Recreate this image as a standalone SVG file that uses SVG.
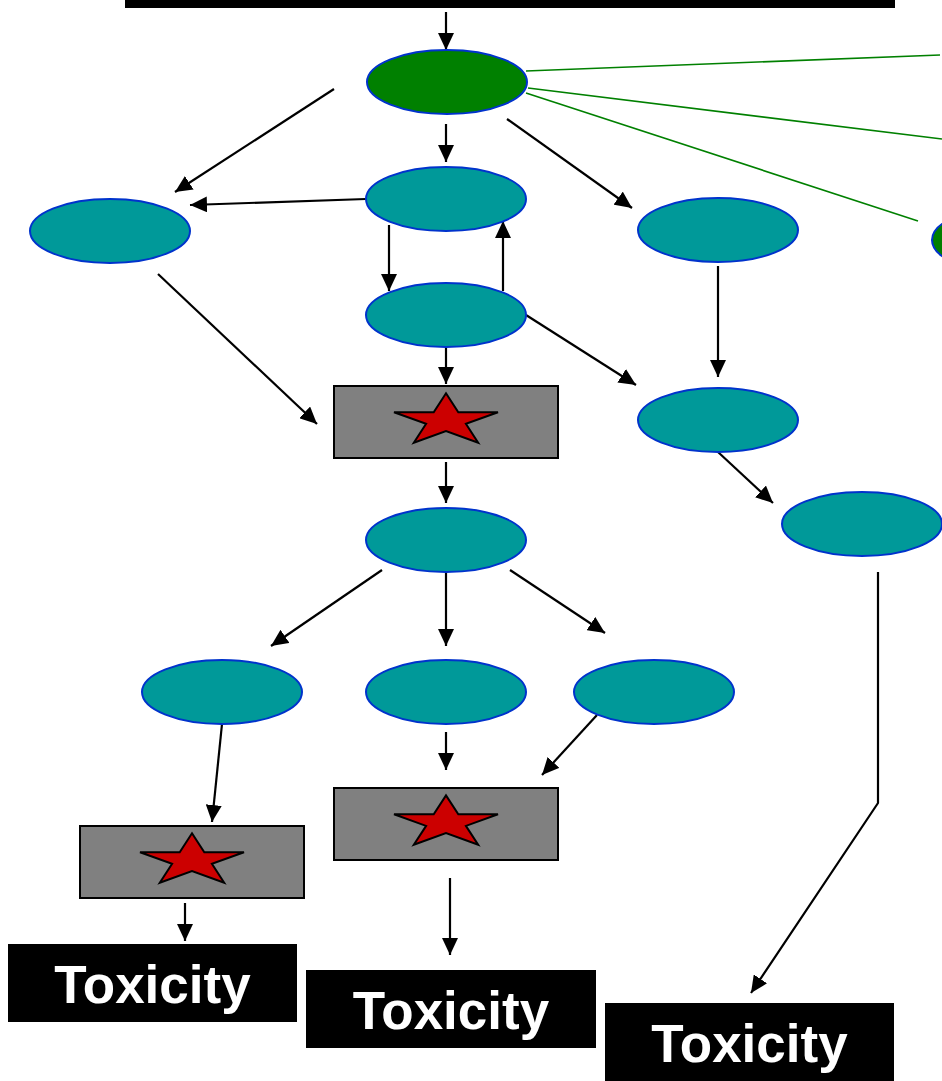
<svg xmlns="http://www.w3.org/2000/svg" xmlns:xlink="http://www.w3.org/1999/xlink" width="942" height="1081" viewBox="0 0 942 1081">
  <style>
    .green { fill: #008000; stroke: #0033cc; stroke-width: 2; }
    .teal { fill: #009999; stroke: #0033cc; stroke-width: 2; }
    .box { fill: #808080; stroke: #000000; stroke-width: 2; }
    .tox { fill: #000000; }
    .toxtext { fill: #ffffff; font-family: "Liberation Sans", Arial, sans-serif; font-weight: bold; font-size: 53px; text-anchor: middle; }
    .edge { fill: none; stroke: #000000; stroke-width: 2.2; marker-end: url(#arrow); }
    .link { fill: none; stroke: #008000; stroke-width: 1.6; }
  </style>
  <defs>
    <marker id="arrow" markerUnits="userSpaceOnUse" markerWidth="17" markerHeight="16" refX="17" refY="8" orient="auto">
      <path d="M0,0 L17,8 L0,16 z" fill="#000000"/>
    </marker>
    <!-- flattened five-point star, centred on the origin -->
    <polygon id="star" points="0,-27.3 12.3,-8.4 52,-8.4 19.9,3.2 32.2,22.1 0,10.4 -32.2,22.1 -19.9,3.2 -52,-8.4 -12.3,-8.4" fill="#cc0000" stroke="#000000" stroke-width="2" stroke-linejoin="miter"/>
  </defs>

  <!-- top bar -->
  <rect id="top-bar" x="125" y="0" width="770" height="8" fill="#000000"/>

  <!-- connectors -->
  <g id="connectors">
    <line class="link" x1="526" y1="71" x2="940" y2="55"/>
    <line class="link" x1="528" y1="88" x2="942" y2="139"/>
    <line class="link" x1="526" y1="93" x2="918" y2="221"/>

    <line class="edge" x1="446" y1="12" x2="446" y2="50"/>
    <line class="edge" x1="334" y1="89" x2="175" y2="192"/>
    <line class="edge" x1="366" y1="199" x2="190" y2="205"/>
    <line class="edge" x1="446" y1="124" x2="446" y2="162"/>
    <line class="edge" x1="507" y1="119" x2="632" y2="208"/>
    <line class="edge" x1="389" y1="225" x2="389" y2="291"/>
    <line class="edge" x1="503" y1="291" x2="503" y2="221"/>
    <line class="edge" x1="526" y1="315" x2="636" y2="385"/>
    <line class="edge" x1="718" y1="266" x2="718" y2="377"/>
    <line class="edge" x1="158" y1="274" x2="317" y2="424"/>
    <line class="edge" x1="446" y1="348" x2="446" y2="384"/>
    <line class="edge" x1="446" y1="462" x2="446" y2="503"/>
    <line class="edge" x1="718" y1="452" x2="773" y2="503"/>
    <line class="edge" x1="382" y1="570" x2="271" y2="646"/>
    <line class="edge" x1="446" y1="572" x2="446" y2="646"/>
    <line class="edge" x1="510" y1="570" x2="605" y2="633"/>
    <line class="edge" x1="222" y1="724" x2="212" y2="822"/>
    <line class="edge" x1="446" y1="732" x2="446" y2="770"/>
    <line class="edge" x1="597" y1="715" x2="542" y2="775"/>
    <line class="edge" x1="185" y1="903" x2="185" y2="941"/>
    <line class="edge" x1="450" y1="878" x2="450" y2="955"/>
    <polyline class="edge" points="878,572 878,803 751,993"/>
  </g>

  <!-- nodes -->
  <g id="n-root"><ellipse class="green" cx="447" cy="82" rx="80" ry="32"/></g>
  <g id="n-offside"><ellipse class="green" cx="1012" cy="240" rx="80" ry="33"/></g>

  <g id="n-a"><ellipse class="teal" cx="446" cy="199" rx="80" ry="32"/></g>
  <g id="n-left"><ellipse class="teal" cx="110" cy="231" rx="80" ry="32"/></g>
  <g id="n-right"><ellipse class="teal" cx="718" cy="230" rx="80" ry="32"/></g>
  <g id="n-b"><ellipse class="teal" cx="446" cy="315" rx="80" ry="32"/></g>
  <g id="n-right2"><ellipse class="teal" cx="718" cy="420" rx="80" ry="32"/></g>
  <g id="n-right3"><ellipse class="teal" cx="862" cy="524" rx="80" ry="32"/></g>
  <g id="n-c"><ellipse class="teal" cx="446" cy="540" rx="80" ry="32"/></g>
  <g id="n-d1"><ellipse class="teal" cx="222" cy="692" rx="80" ry="32"/></g>
  <g id="n-d2"><ellipse class="teal" cx="446" cy="692" rx="80" ry="32"/></g>
  <g id="n-d3"><ellipse class="teal" cx="654" cy="692" rx="80" ry="32"/></g>

  <g id="event-1">
    <rect class="box" x="334" y="386" width="224" height="72"/>
    <use xlink:href="#star" x="446" y="420.6"/>
  </g>
  <g id="event-2">
    <rect class="box" x="334" y="788" width="224" height="72"/>
    <use xlink:href="#star" x="446" y="822.7"/>
  </g>
  <g id="event-3">
    <rect class="box" x="80" y="826" width="224" height="72"/>
    <use xlink:href="#star" x="192" y="860.6"/>
  </g>

  <g id="outcome-1">
    <rect class="tox" x="8" y="944" width="289" height="78"/>
    <text class="toxtext" x="152.5" y="1003">Toxicity</text>
  </g>
  <g id="outcome-2">
    <rect class="tox" x="306" y="970" width="290" height="78"/>
    <text class="toxtext" x="451" y="1029">Toxicity</text>
  </g>
  <g id="outcome-3">
    <rect class="tox" x="605" y="1003" width="289" height="78"/>
    <text class="toxtext" x="749.5" y="1062">Toxicity</text>
  </g>
</svg>
